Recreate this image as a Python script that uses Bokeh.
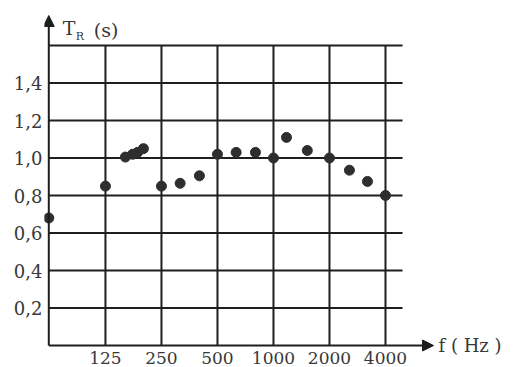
from bokeh.plotting import figure
from bokeh.models import FixedTicker, Arrow, NormalHead
from bokeh.core.properties import value
from bokeh.embed import file_html
from bokeh.resources import INLINE

# ---- data ----
freq_hz = [62, 125, 160, 175, 186, 200, 250, 315, 400, 500, 630, 800,
           1000, 1175, 1520, 2000, 2560, 3200, 4000]
t_r_s = [0.68, 0.85, 1.005, 1.02, 1.03, 1.05, 0.85, 0.865, 0.905, 1.02, 1.03, 1.03,
         1.0, 1.11, 1.04, 1.0, 0.935, 0.875, 0.80]

x_ticks = [125, 250, 500, 1000, 2000, 4000]
x_tick_labels = ["125", "250", "500", "1000", "2000", "4000"]
y_ticks = [0.2, 0.4, 0.6, 0.8, 1.0, 1.2, 1.4]
y_tick_labels = ["0,2", "0,4", "0,6", "0,8", "1,0", "1,2", "1,4"]
y_grid = [0.2, 0.4, 0.6, 0.8, 1.0, 1.2, 1.4, 1.6]

# ---- layout constants ----
F_AXIS = 62          # frequency where the vertical axis sits
F_GRID_END = 4940    # right end of horizontal grid lines
F_ARROW_END = 7250   # tip of the f axis arrow
Y_TOP = 1.6
Y_ARROW_END = 1.76
Y_XLABEL = -0.068

FONT_NAME = "DejaVu Serif"
FONT = value(FONT_NAME)
INK = "#1e1e1e"
TXT = "#383838"

p = figure(width=513, height=367, x_axis_type="log", x_axis_location=None,
           x_range=(58.79, 19504), y_range=(-0.11733, 1.84),
           min_border_left=44, min_border_right=0, min_border_top=0, min_border_bottom=0,
           output_backend="svg", toolbar_location=None)
p.outline_line_color = None
p.grid.grid_line_color = None
p.background_fill_color = "white"

yax = p.yaxis[0]
yax.ticker = FixedTicker(ticks=y_ticks)
yax.major_label_overrides = dict(zip(y_ticks, y_tick_labels))
yax.axis_line_color = None
yax.major_tick_line_color = None
yax.minor_tick_line_color = None
yax.major_tick_out = 0
yax.minor_tick_out = 0
yax.major_label_standoff = 2
yax.major_label_text_font = FONT_NAME
yax.major_label_text_font_size = "18px"
yax.major_label_text_color = TXT

# grid
p.segment(x0=[F_AXIS] * len(y_grid), y0=y_grid, x1=[F_GRID_END] * len(y_grid), y1=y_grid,
          line_color=INK, line_width=2)
p.segment(x0=x_ticks, y0=[0] * len(x_ticks), x1=x_ticks, y1=[Y_TOP] * len(x_ticks),
          line_color=INK, line_width=2)

# axes with arrows
p.add_layout(Arrow(x_start=F_AXIS, y_start=0, x_end=F_AXIS, y_end=Y_ARROW_END,
                   line_color=INK, line_width=2,
                   end=NormalHead(size=11, fill_color=INK, line_color=INK)))
p.add_layout(Arrow(x_start=F_AXIS, y_start=0, x_end=F_ARROW_END, y_end=0,
                   line_color=INK, line_width=2,
                   end=NormalHead(size=11, fill_color=INK, line_color=INK)))

# x tick labels
p.text(x=x_ticks, y=[Y_XLABEL] * len(x_ticks), text=x_tick_labels,
       text_align="center", text_baseline="alphabetic",
       text_font=FONT, text_font_size="17px", text_color=TXT)

# axis titles
p.text(x=[F_ARROW_END], y=[0], text=["f ( Hz )"], x_offset=5,
       text_align="left", text_baseline="middle",
       text_font=FONT, text_font_size="18px", text_color=TXT)
p.text(x=[F_AXIS], y=[1.696], text=["T"], x_offset=14,
       text_align="left", text_baseline="alphabetic",
       text_font=FONT, text_font_size="19px", text_color=TXT)
p.text(x=[F_AXIS], y=[1.648], text=["R"], x_offset=27,
       text_align="left", text_baseline="alphabetic",
       text_font=FONT, text_font_size="11px", text_color=TXT)
p.text(x=[F_AXIS], y=[1.683], text=["(s)"], x_offset=45,
       text_align="left", text_baseline="alphabetic",
       text_font=FONT, text_font_size="19px", text_color=TXT)

# data points
p.scatter(freq_hz, t_r_s, size=10, color="#2e2e2e")

open("out.html", "w").write(file_html(p, INLINE))
